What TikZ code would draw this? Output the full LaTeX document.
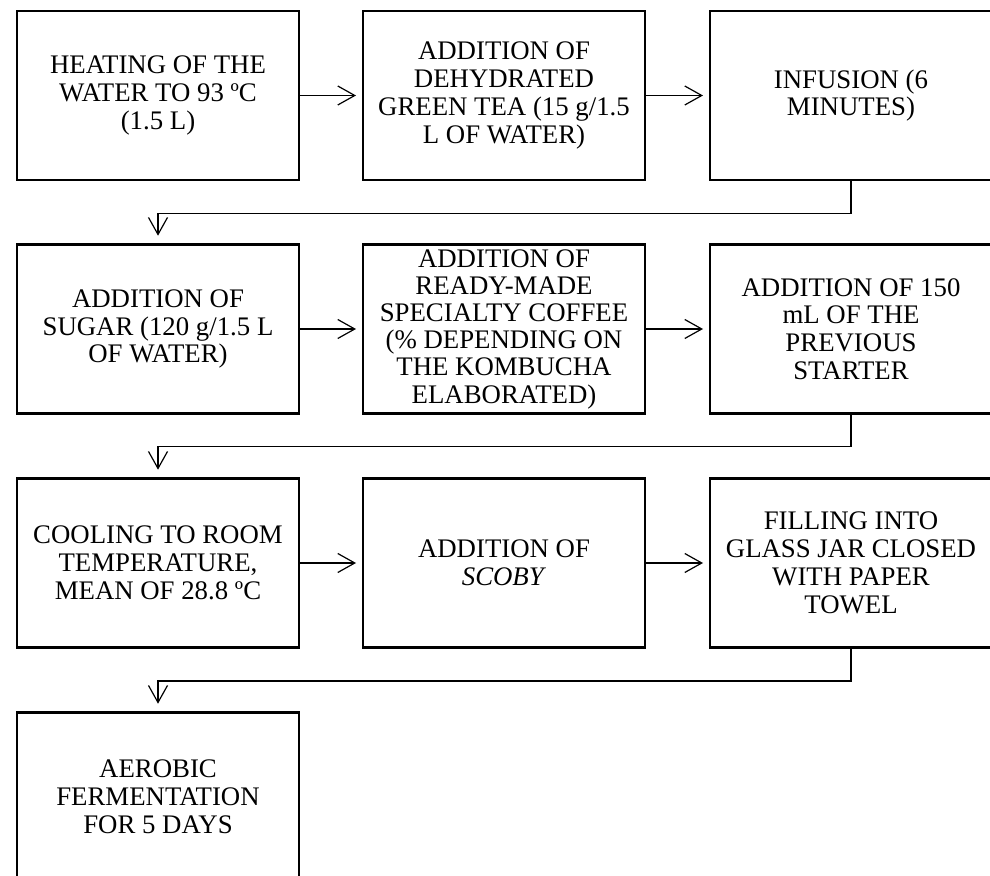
\documentclass[tikz,border=0pt]{standalone}
\usepackage{fontspec}
\setmainfont{Liberation Serif}
\usetikzlibrary{arrows.meta}
\begin{document}
\begin{tikzpicture}[x=0.5pt,y=-0.5pt,
  box/.style={draw, line width=1.4pt, minimum width=141pt, minimum height=84.5pt,
    inner sep=0pt, align=center, font=\fontsize{13.4}{13.9}\selectfont},
  flow/.style={line width=0.6pt, -{Straight Barb[length=8.5pt,width=9.5pt,line width=0.6pt]}},
  hflow/.style={flow, shorten >=2.8pt},
  vflow/.style={flow, shorten >=3.7pt}
]
\useasboundingbox (0,0) rectangle (990,876);
\clip (0,0) rectangle (990,876);

\node[box] (b1) at (158,95.5) {HEATING OF THE\\WATER TO 93 ºC\\(1.5 L)};
\node[box] (b2) at (504,95.5) {ADDITION OF\\DEHYDRATED\\GREEN TEA (15 g/1.5\\L OF WATER)};
\node[box] (b3) at (851,95.5) {INFUSION (6\\MINUTES)};

\node[box] (b4) at (158,329) {ADDITION OF\\SUGAR (120 g/1.5 L\\OF WATER)};
\node[box, font=\fontsize{13.4}{13.6}\selectfont] (b5) at (504,329) {ADDITION OF\\READY-MADE\\SPECIALTY COFFEE\\(\% DEPENDING ON\\THE KOMBUCHA\\ELABORATED)};
\node[box] (b6) at (851,329) {ADDITION OF 150\\mL OF THE\\PREVIOUS\\STARTER};

\node[box] (b7) at (158,563) {COOLING TO ROOM\\TEMPERATURE,\\MEAN OF 28.8 ºC};
\node[box] (b8) at (504,563) {ADDITION OF\\\textit{SCOBY}};
\node[box] (b9) at (851,563) {FILLING INTO\\GLASS JAR CLOSED\\WITH PAPER\\TOWEL};

\node[box] (b10) at (158,797) {AEROBIC\\FERMENTATION\\FOR 5 DAYS};

\draw[hflow] (b1) -- (b2);
\draw[hflow] (b2) -- (b3);
\draw[hflow] (b4) -- (b5);
\draw[hflow] (b5) -- (b6);
\draw[hflow] (b7) -- (b8);
\draw[hflow] (b8) -- (b9);

\draw[vflow] (b3.south) -- ++(0,32) -| (b4.north);
\draw[vflow] (b6.south) -- ++(0,32) -| (b7.north);
\draw[vflow] (b9.south) -- ++(0,32) -| (b10.north);
\end{tikzpicture}
\end{document}
